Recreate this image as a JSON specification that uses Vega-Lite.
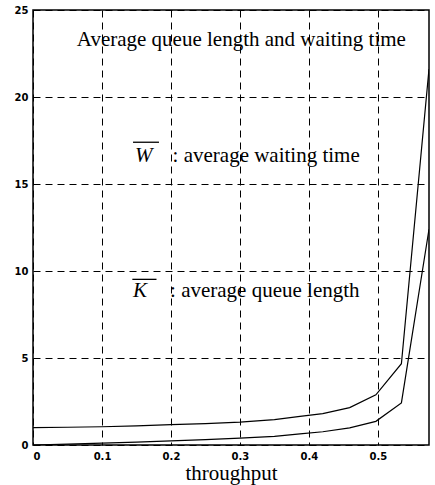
{
  "$schema": "https://vega.github.io/schema/vega-lite/v6.json",
  "autosize": "none",
  "width": 396,
  "height": 435,
  "padding": {"left": 33, "top": 10, "right": 6, "bottom": 40},
  "background": "white",
  "config": {
    "view": {"stroke": "black", "strokeWidth": 1.5},
    "axis": {"labelFont": "DejaVu Sans", "labelFontWeight": "bold", "labelFontSize": 10, "labelColor": "black", "domain": false, "ticks": false, "grid": true, "gridColor": "black", "gridDash": [7, 5], "gridWidth": 1, "gridOpacity": 1}
  },
  "datasets": {
    "curves": [
      {"s": 0.0, "v": 1.0, "series": "W"},
      {"s": 0.05, "v": 1.02, "series": "W"},
      {"s": 0.1, "v": 1.05, "series": "W"},
      {"s": 0.15, "v": 1.1, "series": "W"},
      {"s": 0.2, "v": 1.17, "series": "W"},
      {"s": 0.25, "v": 1.23, "series": "W"},
      {"s": 0.3, "v": 1.32, "series": "W"},
      {"s": 0.35, "v": 1.46, "series": "W"},
      {"s": 0.387, "v": 1.64, "series": "W"},
      {"s": 0.42, "v": 1.8, "series": "W"},
      {"s": 0.459, "v": 2.15, "series": "W"},
      {"s": 0.497, "v": 2.88, "series": "W"},
      {"s": 0.534, "v": 4.67, "series": "W"},
      {"s": 0.574, "v": 21.6, "series": "W"},
      {"s": 0.0, "v": 0.0, "series": "K"},
      {"s": 0.05, "v": 0.05, "series": "K"},
      {"s": 0.1, "v": 0.105, "series": "K"},
      {"s": 0.15, "v": 0.165, "series": "K"},
      {"s": 0.2, "v": 0.234, "series": "K"},
      {"s": 0.25, "v": 0.31, "series": "K"},
      {"s": 0.3, "v": 0.39, "series": "K"},
      {"s": 0.35, "v": 0.5, "series": "K"},
      {"s": 0.387, "v": 0.64, "series": "K"},
      {"s": 0.42, "v": 0.76, "series": "K"},
      {"s": 0.459, "v": 0.98, "series": "K"},
      {"s": 0.497, "v": 1.36, "series": "K"},
      {"s": 0.534, "v": 2.42, "series": "K"},
      {"s": 0.574, "v": 12.4, "series": "K"}
    ],
    "one": [{}]
  },
  "layer": [
    {
      "data": {"name": "curves"},
      "mark": {"type": "line", "color": "black", "strokeWidth": 1.2, "clip": true},
      "encoding": {
        "x": {"field": "s", "type": "quantitative", "scale": {"domain": [0, 0.574], "nice": false},
          "axis": {"values": [0, 0.1, 0.2, 0.3, 0.4, 0.5], "labelExpr": "datum.value == 0 ? '0' : format(datum.value, '.1f')", "title": "throughput", "titleFont": "Liberation Serif", "titleFontSize": 21, "titleFontWeight": "normal", "titleColor": "black", "titlePadding": 1, "labelPadding": 6}},
        "y": {"field": "v", "type": "quantitative", "scale": {"domain": [0, 25], "nice": false},
          "axis": {"values": [0, 5, 10, 15, 20, 25], "title": null, "labelPadding": 5}},
        "detail": {"field": "series"}
      }
    },
    {
      "data": {"name": "one"},
      "mark": {"type": "text", "font": "Liberation Serif", "fontSize": 21, "align": "center", "baseline": "middle", "color": "black"},
      "encoding": {"x": {"datum": 0.302}, "y": {"datum": 23.3}, "text": {"value": "Average queue length and waiting time"}}
    },
    {
      "data": {"name": "one"},
      "mark": {"type": "text", "font": "Liberation Serif", "fontSize": 21, "fontStyle": "italic", "align": "left", "baseline": "middle", "color": "black"},
      "encoding": {"x": {"datum": 0.148}, "y": {"datum": 16.62}, "text": {"value": "W"}}
    },
    {
      "data": {"name": "one"},
      "mark": {"type": "text", "font": "Liberation Serif", "fontSize": 21, "align": "center", "baseline": "middle", "color": "black"},
      "encoding": {"x": {"datum": 0.338}, "y": {"datum": 16.62}, "text": {"value": ": average waiting time"}}
    },
    {
      "data": {"name": "one"},
      "mark": {"type": "rule", "color": "black", "strokeWidth": 1.3},
      "encoding": {"x": {"datum": 0.145}, "x2": {"datum": 0.1826}, "y": {"datum": 17.4}}
    },
    {
      "data": {"name": "one"},
      "mark": {"type": "text", "font": "Liberation Serif", "fontSize": 21, "fontStyle": "italic", "align": "left", "baseline": "middle", "color": "black"},
      "encoding": {"x": {"datum": 0.145}, "y": {"datum": 8.84}, "text": {"value": "K"}}
    },
    {
      "data": {"name": "one"},
      "mark": {"type": "text", "font": "Liberation Serif", "fontSize": 21, "align": "center", "baseline": "middle", "color": "black"},
      "encoding": {"x": {"datum": 0.336}, "y": {"datum": 8.84}, "text": {"value": ": average queue length"}}
    },
    {
      "data": {"name": "one"},
      "mark": {"type": "rule", "color": "black", "strokeWidth": 1.3},
      "encoding": {"x": {"datum": 0.144}, "x2": {"datum": 0.179}, "y": {"datum": 9.52}}
    }
  ]
}
